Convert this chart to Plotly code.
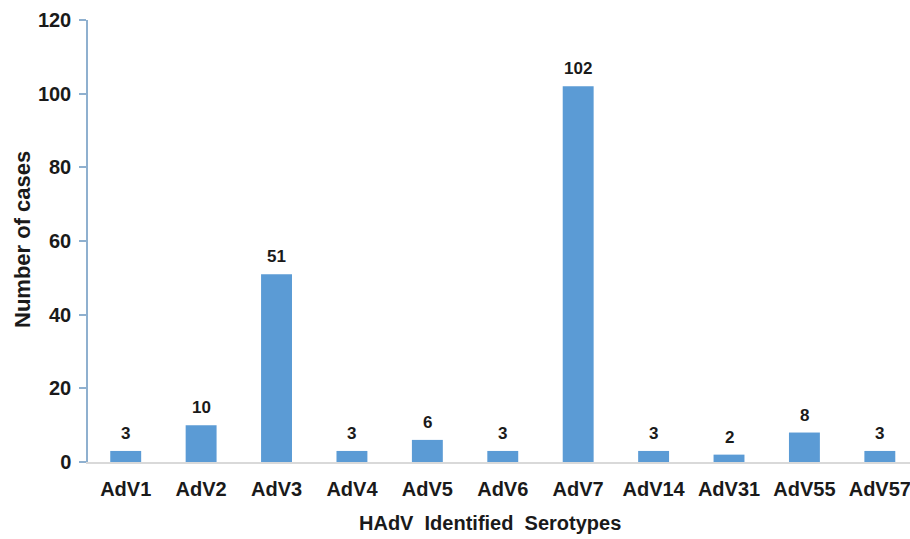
import plotly.graph_objects as go

categories = ["AdV1", "AdV2", "AdV3", "AdV4", "AdV5", "AdV6", "AdV7", "AdV14", "AdV31", "AdV55", "AdV57"]
cases = [3, 10, 51, 3, 6, 3, 102, 3, 2, 8, 3]
y_ticks = [0, 20, 40, 60, 80, 100, 120]

FONT = "Liberation Sans, Arial, sans-serif"
INK = "#1a1a1a"

W, H = 910, 539
L, R, T, B = 88, 0, 20, 77

xs = list(range(len(categories)))

fig = go.Figure(go.Bar(
    x=xs, y=cases,
    marker=dict(color="#5B9BD5", line=dict(width=0)),
    width=0.41,
    hoverinfo="skip",
))

pw = W - L - R
ph = H - T - B

value_labels = [
    dict(text=f"<b>{v}</b>", x=xi, y=v, xref="x", yref="y",
         xanchor="center", yanchor="bottom", yshift=6, showarrow=False,
         font=dict(family=FONT, size=17, color=INK))
    for xi, v in zip(xs, cases)
]

fig.update_layout(
    width=W, height=H,
    margin=dict(l=L, r=R, t=T, b=B, pad=0),
    paper_bgcolor="white", plot_bgcolor="white",
    showlegend=False,
    font=dict(family=FONT, color=INK),
    xaxis=dict(
        tickmode="array", tickvals=xs, ticktext=categories,
        range=[-0.5, 10.40],
        showline=True, linecolor="#d9d9d9", linewidth=1.5,
        showgrid=False, zeroline=False, ticks="",
        ticklabeloverflow="allow", ticklabelstandoff=8,
        tickfont=dict(family=FONT, size=20, color=INK, weight="bold"),
    ),
    yaxis=dict(
        range=[0, 120], tickvals=y_ticks,
        showline=True, linecolor="#8fb0cf", linewidth=1.5,
        ticks="outside", ticklen=7, tickcolor="#8fb0cf", tickwidth=1.5,
        ticklabelstandoff=4,
        showgrid=False, zeroline=False,
        tickfont=dict(family=FONT, size=20, color=INK, weight="bold"),
    ),
    annotations=value_labels + [
        dict(text="<b>HAdV&#160; Identified&#160; Serotypes</b>",
             x=(490 - L) / pw, y=(H - B - 523) / ph, xref="paper", yref="paper",
             xanchor="center", yanchor="middle", showarrow=False,
             font=dict(family=FONT, size=20, color=INK)),
        dict(text="<b>Number of cases</b>", textangle=-90,
             x=(22 - L) / pw, y=(H - B - 240) / ph, xref="paper", yref="paper",
             xanchor="center", yanchor="middle", showarrow=False,
             font=dict(family=FONT, size=22, color=INK)),
    ],
)

fig.write_html("out.html", config={"displayModeBar": False},
               post_script="document.body.style.margin='0';document.body.style.overflow='hidden';")
